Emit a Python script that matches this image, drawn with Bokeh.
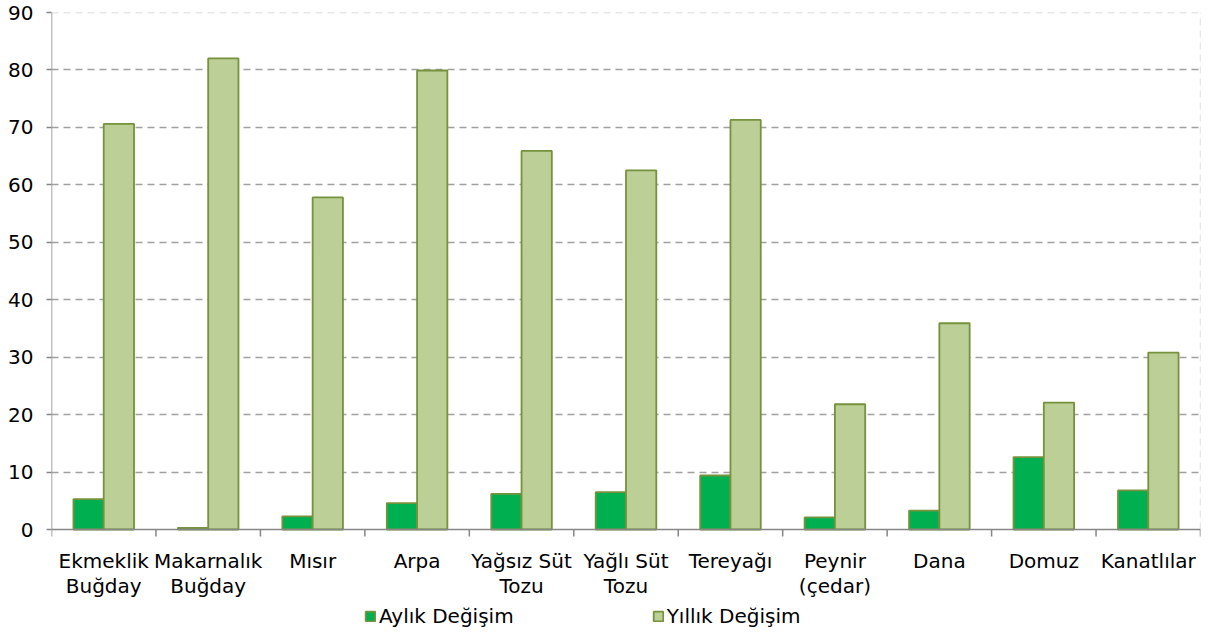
from bokeh.plotting import figure
from bokeh.models import (Range1d, FixedTicker, Legend, LegendItem, ColumnDataSource)
from bokeh.core.properties import value
from bokeh.embed import file_html
from bokeh.resources import INLINE

categories = ["Ekmeklik\nBuğday", "Makarnalık\nBuğday", "Mısır", "Arpa", "Yağsız Süt\nTozu",
              "Yağlı Süt\nTozu", "Tereyağı", "Peynir\n(çedar)", "Dana", "Domuz", "Kanatlılar"]
aylik = [5.3, 0.3, 2.3, 4.6, 6.2, 6.5, 9.4, 2.1, 3.3, 12.6, 6.8]
yillik = [70.6, 82.0, 57.8, 79.9, 65.9, 62.5, 71.3, 21.8, 35.9, 22.1, 30.8]
y_ticks = [0, 10, 20, 30, 40, 50, 60, 70, 80, 90]

FONT = "DejaVu Sans"
FS = "20px"
n = len(categories)
idx = list(range(n))
bw = 0.29

W, H = 1206, 628
TOP, LEFT, RIGHT = 12, 51, 6
ZERO_PX = 529                      # canvas y of value 0
YMAX = 90
unit = (ZERO_PX - TOP) / YMAX      # px per value unit
ylo = -(H - ZERO_PX) / unit
tick_len = 7 / unit

src = ColumnDataSource(dict(
    x1=[i - bw / 2 for i in idx], x2=[i + bw / 2 for i in idx],
    aylik=aylik, yillik=yillik))

p = figure(width=W, height=H, output_backend="svg", toolbar_location=None,
           x_range=Range1d(-0.5, n - 0.5), y_range=Range1d(ylo, YMAX),
           x_axis_location=None,
           min_border_left=LEFT, min_border_right=RIGHT, min_border_top=TOP, min_border_bottom=0)
p.outline_line_color = None
p.xgrid.grid_line_color = None
p.ygrid.ticker = FixedTicker(ticks=y_ticks[1:-1])
p.ygrid.grid_line_color = "#A0A0A0"
p.ygrid.grid_line_dash = "7 5"
p.ygrid.grid_line_width = 1.3

# plot-area border (top and right, dashed light gray)
p.segment(x0=[-0.5, n - 0.5], y0=[YMAX, 0], x1=[n - 0.5, n - 0.5], y1=[YMAX, YMAX],
          line_color="#D0D0D0", line_dash="7 5", line_width=1.3)

r1 = p.vbar(x="x1", top="aylik", width=bw, source=src, fill_color="#00B050",
            line_color="#76923C", line_width=1.8)
r2 = p.vbar(x="x2", top="yillik", width=bw, source=src, fill_color="#BBCF96",
            line_color="#76923C", line_width=1.8)

# category axis drawn at value 0
bounds = [i - 0.5 for i in range(n + 1)]
p.segment(x0=bounds, y0=[0] * len(bounds), x1=bounds, y1=[-tick_len] * len(bounds),
          line_color="#868686", line_width=1.5)
p.segment(x0=[-0.5], y0=[0], x1=[n - 0.5], y1=[0], line_color="#868686", line_width=1.5)
p.segment(x0=[-0.5], y0=[0], x1=[-0.5], y1=[YMAX], line_color="#868686", line_width=1.5)
lab = ColumnDataSource(dict(x=idx, y=[0] * n, text=categories))
p.text(x="x", y="y", text="text", source=lab, y_offset=19, text_align="center",
       text_baseline="top", text_font=value(FONT), text_font_size=FS,
       text_color="#000000", text_line_height=1.05)

# y axis
ya = p.yaxis[0]
ya.ticker = FixedTicker(ticks=y_ticks)
ya.minor_tick_line_color = None
ya.major_tick_out = 5
ya.major_tick_in = 0
ya.major_tick_line_color = "#868686"
ya.major_tick_line_width = 1.5
ya.axis_line_color = None
ya.major_label_text_font = FONT
ya.major_label_text_font_size = FS
ya.major_label_text_color = "#000000"
ya.major_label_standoff = 13

legend = Legend(items=[LegendItem(label="Aylık Değişim", renderers=[r1]),
                       LegendItem(label="Yıllık Değişim", renderers=[r2])],
                orientation="horizontal", location=(313, 0),
                glyph_width=12, glyph_height=12, label_standoff=3, spacing=138,
                padding=0, margin=0, border_line_color=None, background_fill_alpha=0,
                label_text_font=FONT, label_text_font_size=FS, label_text_color="#000000",
                label_height=20)
p.add_layout(legend, "center")

open("out.html", "w").write(file_html(p, INLINE))
